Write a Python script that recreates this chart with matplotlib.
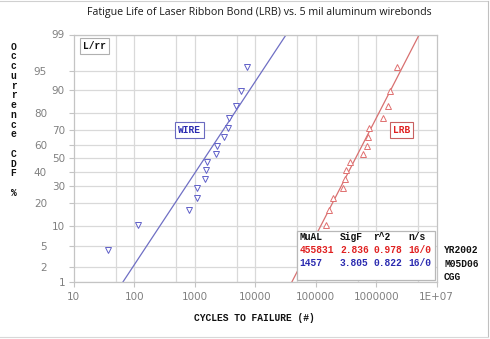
import statistics
import numpy as np
import matplotlib
matplotlib.use("Agg")
import matplotlib.pyplot as plt
from matplotlib.patches import Rectangle

# ---------------- data ----------------
rank_pct = [4.3, 10.4, 16.5, 22.6, 28.7, 34.8, 40.9, 47.0, 53.0, 59.1, 65.2, 71.3, 77.4, 83.5, 89.6, 95.7]
wire_cycles = [37, 117, 815, 1080, 1100, 1460, 1540, 1620, 2250, 2300, 3020, 3510, 3690, 4820, 5760, 7240]
lrb_cycles = [110000, 146000, 164000, 195000, 279000, 308000, 317000, 373000,
              605000, 704000, 731000, 751000, 1280000, 1550000, 1690000, 2180000]

lrb_mu, lrb_sigf, lrb_r2, lrb_ns = 455831, 2.836, 0.978, "16/0"
wire_mu, wire_sigf, wire_r2, wire_ns = 1457, 3.805, 0.822, "16/0"

y_ticks = [1, 2, 5, 10, 20, 30, 40, 50, 60, 70, 80, 90, 95, 99]
x_ticks = [10, 100, 1000, 10000, 100000, 1000000, 10000000]
x_tick_labels = ["10", "100", "1000", "10000", "100000", "1000000", "1E+07"]
x_grid = [50, 100, 500, 1000, 5000, 10000, 50000, 100000, 500000, 1000000, 5000000]

nd = statistics.NormalDist()
def probit(p):
    return nd.inv_cdf(p / 100.0)

W, H = 490, 339
L, R, T, B = 73.7, 436.7, 34.5, 282.0
fig = plt.figure(figsize=(W / 100, H / 100), dpi=100)
ax = fig.add_axes([L / W, 1 - B / H, (R - L) / W, (B - T) / H])

def fx(px):
    return (px - L) / (R - L)
def fy(py):
    return (B - py) / (B - T)

MONO = "Liberation Mono"
BLUE_LINE = "#6f6fc4"
RED_LINE = "#d87070"
BLUE_TXT = "#2a2ab0"
RED_TXT = "#e02020"
GRID = "#d9d9d9"

ax.set_xscale("log")
ax.set_xlim(10, 1e7)
ax.set_ylim(probit(1), probit(99))

# grid
for v in x_grid:
    ax.axvline(v, color=GRID, lw=0.9, zorder=0)
for p in y_ticks:
    ax.axhline(probit(p), color=GRID, lw=0.9, zorder=0)

# fit lines
zz = np.linspace(probit(1), probit(99), 50)
ax.plot(wire_mu * wire_sigf ** zz, zz, color=BLUE_LINE, lw=0.9, zorder=2)
ax.plot(lrb_mu * lrb_sigf ** zz, zz, color=RED_LINE, lw=0.9, zorder=2)

# points
zr = [probit(p) for p in rank_pct]
ax.plot(wire_cycles, zr, ls="none", marker="v", ms=3.8, mfc="white", mec="#6060c8", mew=0.7, zorder=3)
ax.plot(lrb_cycles, zr, ls="none", marker="^", ms=3.8, mfc="white", mec="#e07070", mew=0.7, zorder=3)

# axes styling
for s in ax.spines.values():
    s.set_color("#c4c4c4")
    s.set_linewidth(0.9)
ax.set_xticks(x_ticks)
ax.set_xticklabels(x_tick_labels)
ax.xaxis.set_minor_locator(matplotlib.ticker.NullLocator())
ax.set_yticks([probit(p) for p in y_ticks])
ax.set_yticklabels([str(p) for p in y_ticks])
ax.tick_params(axis="both", colors="#c4c4c4", labelcolor="#808080", labelsize=7.5, length=3.6, width=0.8)
ax.tick_params(axis="x", pad=3.5)
left_col = {2, 5, 20, 40, 60, 80, 95}
for p, tk in zip(y_ticks, ax.yaxis.get_major_ticks()):
    tk.set_pad(15.6 if p in left_col else 2.7)

# title
fig.text(259 / W, 1 - 12 / H, "Fatigue Life of Laser Ribbon Bond (LRB) vs. 5 mil aluminum wirebonds",
         ha="center", va="center", fontsize=7.7, family="Open Sans", color="#1a1a1a")

# x label
fig.text(254 / W, 1 - 318 / H, "CYCLES TO FAILURE (#)", ha="center", va="center",
         fontsize=6.9, family=MONO, weight="bold", color="#111111")

# stacked y label
ylab = "Occurrence CDF %"
for i, ch in enumerate(ylab):
    if ch != " ":
        fig.text(13.5 / W, 1 - (46.7 + i * 9.75) / H, ch, ha="center", va="center",
                 fontsize=6.9, family=MONO, weight="bold", color="#111111")

# label boxes
def tag(px, py, s, col, ecol):
    ax.text(fx(px), fy(py), s, transform=ax.transAxes, ha="center", va="center",
            fontsize=6.9, family=MONO, weight="bold", color=col, zorder=6,
            bbox=dict(boxstyle="square,pad=0.3", fc="white", ec=ecol, lw=0.8))

tag(94.5, 46, "L/rr", "#111111", "#b0b0b0")
tag(189.7, 129.7, "WIRE", BLUE_TXT, "#6a6ac0")
tag(401.3, 130.3, "LRB", RED_TXT, "#c86060")

# stats box
ax.add_patch(Rectangle((fx(297), fy(280)), fx(435) - fx(297), fy(231) - fy(280),
                       transform=ax.transAxes, fc="white", ec="#b8b8b8", lw=0.9, zorder=5))
cols = [299.5, 340, 373, 408.5]
rows = [(236.5, ["MuAL", "SigF", "r^2", "n/s"], "#111111"),
        (250, [str(lrb_mu), f"{lrb_sigf:.3f}", f"{lrb_r2:.3f}", lrb_ns], RED_TXT),
        (263.5, [str(wire_mu), f"{wire_sigf:.3f}", f"{wire_r2:.3f}", wire_ns], BLUE_TXT)]
for py, vals, c in rows:
    for px, v in zip(cols, vals):
        ax.text(fx(px), fy(py), v, transform=ax.transAxes, ha="left", va="center",
                fontsize=6.9, family=MONO, weight="bold", color=c, zorder=7)

for py, s in [(250, "YR2002"), (264, "M05D06"), (277.3, "CGG")]:
    fig.text(444 / W, 1 - py / H, s, ha="left", va="center", fontsize=6.9,
             family=MONO, weight="bold", color="#111111")

# faint figure border (top, right, bottom)
fig.add_artist(plt.Line2D([0, 487.5 / W], [1 - 1 / H, 1 - 1 / H], transform=fig.transFigure, color="#d0d0d0", lw=0.8))
fig.add_artist(plt.Line2D([487.5 / W, 487.5 / W], [1 - 1 / H, 1 - 336.5 / H], transform=fig.transFigure, color="#c0c0c0", lw=0.8))
fig.add_artist(plt.Line2D([0, 487.5 / W], [1 - 336.5 / H, 1 - 336.5 / H], transform=fig.transFigure, color="#d8d8d8", lw=0.8))

fig.savefig("out.png", dpi=100)
